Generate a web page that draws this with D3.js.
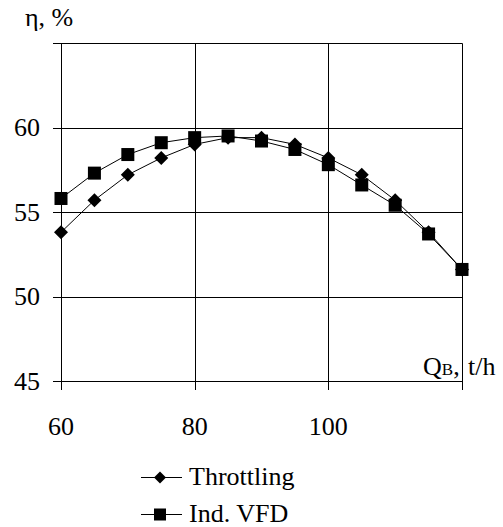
<!DOCTYPE html>
<html>
<head>
<meta charset="utf-8">
<script src="https://d3js.org/d3.v7.min.js"></script>
<style>
  body { margin: 0; background: #fff; }
  svg text { font-family: "Liberation Serif", "Times New Roman", Times, "DejaVu Serif", serif; fill: #000; }
</style>
</head>
<body>
<svg id="graph1" width="503" height="527"></svg>
<script>
// flow rate, t/h
var flows = [60, 65, 70, 75, 80, 85, 90, 95, 100, 105, 110, 115, 120];
// efficiency, %
var throttling = [53.8, 55.7, 57.2, 58.2, 59.0, 59.4, 59.4, 59.0, 58.2, 57.2, 55.7, 53.8, 51.6];
var indVfd     = [55.8, 57.3, 58.4, 59.1, 59.4, 59.5, 59.2, 58.7, 57.8, 56.6, 55.4, 53.7, 51.6];

var xTicks = [60, 80, 100, 120];
var xTickLabels = ["60", "80", "100", ""];
var yTicks = [45, 50, 55, 60, 65];
var yTickLabels = ["45", "50", "55", "60", ""];

var seriesNames = ["Throttling", "Ind. VFD"];

var serif = "'Liberation Serif', 'Times New Roman', Times, 'DejaVu Serif', serif";

var svg = d3.select("#graph1");

// scales, plot box from 61..462 across and 43..381 down
var x = d3.scaleLinear().domain([60, 120]).range([61, 462]);
var y = d3.scaleLinear().domain([45, 65]).range([381, 43]);

var crisp = function(v) { return Math.round(v) + 0.5; };

// horizontal grid lines with left ticks
svg.selectAll("line.hgrid")
  .data(yTicks)
  .enter().append("line")
  .attr("class", "hgrid")
  .attr("x1", 53).attr("x2", crisp(x(120)))
  .attr("y1", function(d) { return crisp(y(d)); })
  .attr("y2", function(d) { return crisp(y(d)); })
  .attr("stroke", "#000").attr("stroke-width", 1);

// vertical grid lines with bottom ticks
svg.selectAll("line.vgrid")
  .data(xTicks)
  .enter().append("line")
  .attr("class", "vgrid")
  .attr("x1", function(d) { return crisp(x(d)); })
  .attr("x2", function(d) { return crisp(x(d)); })
  .attr("y1", crisp(y(65))).attr("y2", 390)
  .attr("stroke", "#000").attr("stroke-width", 1);

// y tick labels
svg.selectAll("text.ylab")
  .data(yTicks)
  .enter().append("text")
  .attr("class", "ylab")
  .attr("x", 40)
  .attr("y", function(d) { return y(d); })
  .attr("dy", "0.34em")
  .attr("text-anchor", "end")
  .attr("font-family", serif)
  .attr("font-size", 26)
  .text(function(d, i) { return yTickLabels[i]; });

// x tick labels
svg.selectAll("text.xlab")
  .data(xTicks)
  .enter().append("text")
  .attr("class", "xlab")
  .attr("x", function(d) { return x(d); })
  .attr("y", 435)
  .attr("text-anchor", "middle")
  .attr("font-family", serif)
  .attr("font-size", 26)
  .text(function(d, i) { return xTickLabels[i]; });

// axis titles
svg.append("text")
  .attr("x", 25).attr("y", 26)
  .attr("font-family", serif)
  .attr("font-size", 26)
  .text("η, %");

var qLabel = svg.append("text")
  .attr("x", 423).attr("y", 375)
  .attr("font-family", serif)
  .attr("font-size", 26);
qLabel.append("tspan").text("Q");
qLabel.append("tspan").attr("font-size", 17).text("B");
qLabel.append("tspan").text(",");
qLabel.append("tspan").attr("x", 468).text("t/h");

// series
var line = d3.line()
  .x(function(d) { return x(d[0]); })
  .y(function(d) { return y(d[1]); });

var diamond = function(cx, cy, r) {
  return "M" + cx + "," + (cy - r) + "L" + (cx + r) + "," + cy +
         "L" + cx + "," + (cy + r) + "L" + (cx - r) + "," + cy + "Z";
};

var thrPts = flows.map(function(f, i) { return [f, throttling[i]]; });
var vfdPts = flows.map(function(f, i) { return [f, indVfd[i]]; });

svg.append("path")
  .attr("d", line(thrPts))
  .attr("fill", "none").attr("stroke", "#000").attr("stroke-width", 1);

svg.selectAll("path.dia")
  .data(thrPts)
  .enter().append("path")
  .attr("class", "dia")
  .attr("d", function(d) { return diamond(x(d[0]), y(d[1]), 7); })
  .attr("fill", "#000");

svg.append("path")
  .attr("d", line(vfdPts))
  .attr("fill", "none").attr("stroke", "#000").attr("stroke-width", 1);

svg.selectAll("rect.sq")
  .data(vfdPts)
  .enter().append("rect")
  .attr("class", "sq")
  .attr("x", function(d) { return x(d[0]) - 6.5; })
  .attr("y", function(d) { return y(d[1]) - 6.5; })
  .attr("width", 13).attr("height", 13)
  .attr("fill", "#000");

// legend
var legend = svg.selectAll("g.leg")
  .data(seriesNames)
  .enter().append("g")
  .attr("class", "leg")
  .attr("transform", function(d, i) { return "translate(0," + (477 + i * 37) + ")"; });

legend.append("line")
  .attr("x1", 141).attr("x2", 182)
  .attr("y1", 0.5).attr("y2", 0.5)
  .attr("stroke", "#000").attr("stroke-width", 1);

legend.each(function(d, i) {
  var g = d3.select(this);
  if (i === 0) {
    g.append("path").attr("d", diamond(160, 0.5, 6)).attr("fill", "#000");
  } else {
    g.append("rect").attr("x", 154).attr("y", -5.5).attr("width", 12).attr("height", 12).attr("fill", "#000");
  }
});

legend.append("text")
  .attr("x", 189).attr("y", 0)
  .attr("dy", "0.32em")
  .attr("font-family", serif)
  .attr("font-size", 26)
  .text(function(d) { return d; });
</script>
</body>
</html>
